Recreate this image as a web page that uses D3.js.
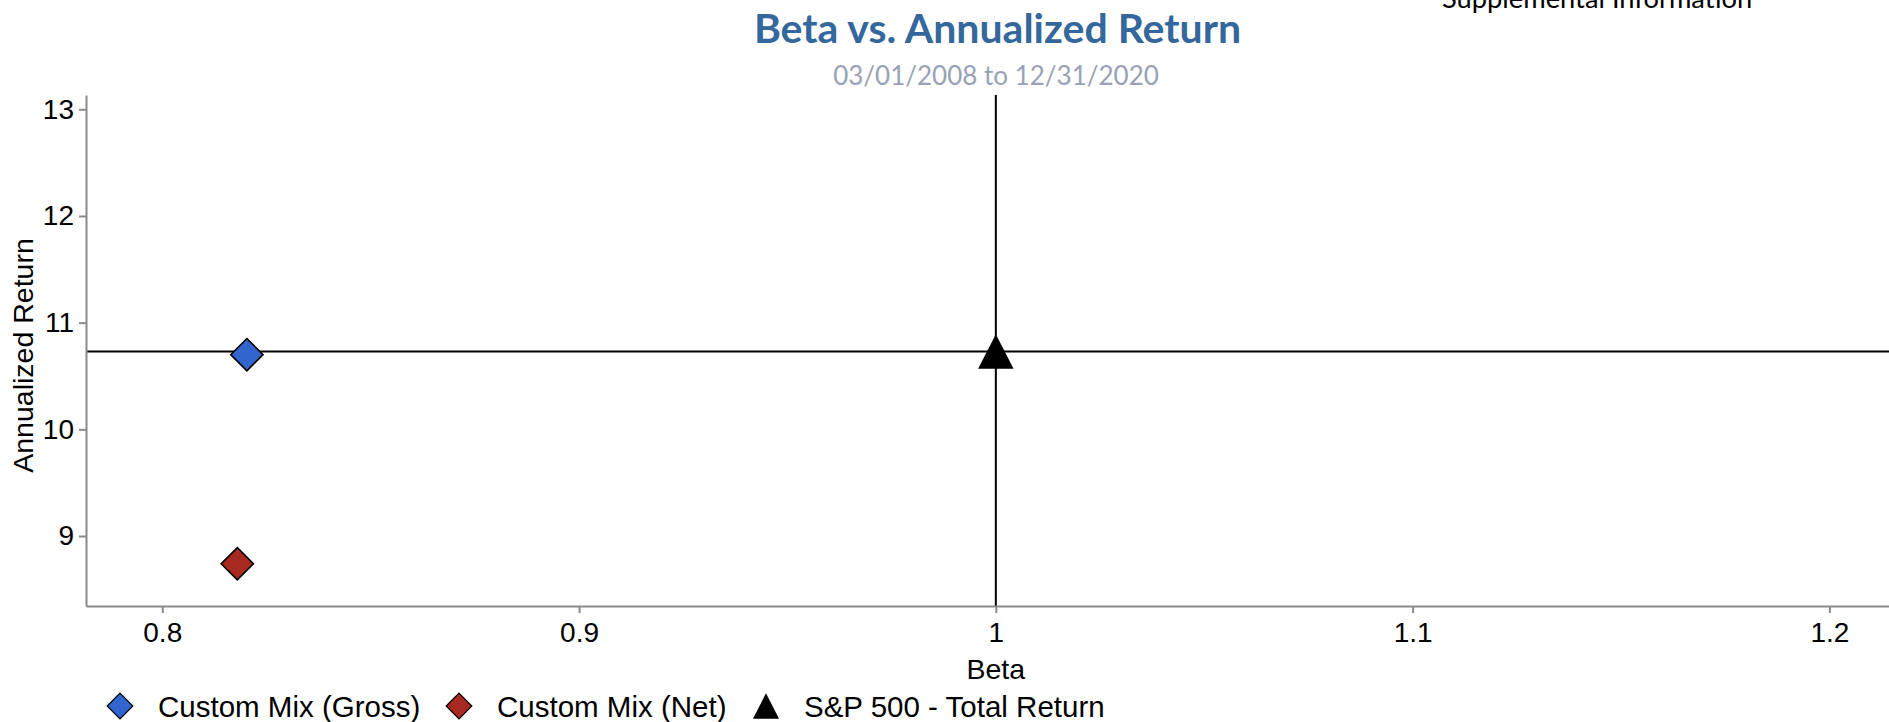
<!DOCTYPE html>
<html>
<head>
<meta charset="utf-8">
<script src="https://cdn.jsdelivr.net/npm/d3@7"></script>
<style>
  html, body { margin: 0; padding: 0; background: #fff; }
  svg { display: block; }
</style>
</head>
<body>
<svg id="chart" width="1889" height="722"></svg>
<script>
// ---- data ----
const categories = ["Custom Mix (Gross)", "Custom Mix (Net)", "S&P 500 - Total Return"];
const betaValues = [0.8203, 0.818, 1.0];
const returnValues = [10.70, 8.74, 10.73];
const benchmarkBeta = 1.0;
const benchmarkReturn = 10.73;
const xTickValues = [0.8, 0.9, 1.0, 1.1, 1.2];
const xTickLabels = ["0.8", "0.9", "1", "1.1", "1.2"];
const yTickValues = [9, 10, 11, 12, 13];
const yTickLabels = ["9", "10", "11", "12", "13"];
const xDomain = [0.7817, 1.2179];
const yDomain = [8.344, 13.134];
const titleText = "Beta vs. Annualized Return";
const subtitleText = "03/01/2008 to 12/31/2020";
const cornerText = "Supplemental Information";
const xTitle = "Beta";
const yTitle = "Annualized Return";

// ---- styles ----
const colors = ["#3366cc", "#a8291f", "#000000"];
const shapes = ["diamond", "diamond", "triangle"];
const FONT = "'Liberation Sans', Arial, sans-serif";
const TFONT = "Lato, 'Open Sans', sans-serif";

const svg = d3.select("#chart");
const plot = { left: 86, right: 1904, top: 95, bottom: 606 };

const x = d3.scaleLinear().domain(xDomain).range([plot.left, plot.right]);
const y = d3.scaleLinear().domain(yDomain).range([plot.bottom, plot.top]);

// custom symbol types
const squareDiamond = {
  draw(ctx, size) {
    const r = Math.sqrt(size / 2);
    ctx.moveTo(0, -r); ctx.lineTo(r, 0); ctx.lineTo(0, r); ctx.lineTo(-r, 0); ctx.closePath();
  }
};
const tallTriangle = {
  draw(ctx, size) {
    const h = Math.sqrt(size * 2 * 0.97);
    const w = h / 0.97;
    ctx.moveTo(0, -h / 2); ctx.lineTo(w / 2, h / 2); ctx.lineTo(-w / 2, h / 2); ctx.closePath();
  }
};
function symType(s) { return s === "diamond" ? squareDiamond : tallTriangle; }

// titles
svg.append("text").attr("x", 997.5).attr("y", 43).attr("text-anchor", "middle")
  .attr("font-family", TFONT).attr("font-weight", 700).attr("font-size", 41)
  .attr("fill", "#34679c").text(titleText);
svg.append("text").attr("x", 996).attr("y", 85).attr("text-anchor", "middle")
  .attr("font-family", TFONT).attr("font-size", 26)
  .attr("fill", "#98a2b6").text(subtitleText);
svg.append("text").attr("x", 1442).attr("y", 8).attr("text-anchor", "start")
  .attr("font-family", TFONT).attr("font-size", 27.3)
  .attr("fill", "#000").text(cornerText);

// reference lines
svg.append("line")
  .attr("x1", x(benchmarkBeta)).attr("x2", x(benchmarkBeta))
  .attr("y1", y(yDomain[1])).attr("y2", y(yDomain[0]))
  .attr("stroke", "#000").attr("stroke-width", 2);
svg.append("line")
  .attr("x1", x(xDomain[0])).attr("x2", x(xDomain[1]))
  .attr("y1", y(benchmarkReturn)).attr("y2", y(benchmarkReturn))
  .attr("stroke", "#000").attr("stroke-width", 2);

// axes
const xAxis = d3.axisBottom(x).tickValues(xTickValues)
  .tickFormat((d, i) => xTickLabels[i]).tickSize(7).tickSizeOuter(0).tickPadding(9);
const yAxis = d3.axisLeft(y).tickValues(yTickValues)
  .tickFormat((d, i) => yTickLabels[i]).tickSize(7).tickSizeOuter(0).tickPadding(5);

const gx = svg.append("g").attr("transform", `translate(0,${plot.bottom})`).call(xAxis);
const gy = svg.append("g").attr("transform", `translate(${plot.left},0)`).call(yAxis);
[gx, gy].forEach(g => {
  g.select(".domain").attr("stroke", "#8a8a8a").attr("stroke-width", 2);
  g.selectAll(".tick line").attr("stroke", "#8a8a8a").attr("stroke-width", 2);
  g.selectAll(".tick text").attr("fill", "#000").attr("font-family", FONT).attr("font-size", 28);
});

// axis titles
svg.append("text").attr("x", x(1.0)).attr("y", 679).attr("text-anchor", "middle")
  .attr("font-family", FONT).attr("font-size", 28.5).attr("fill", "#000").text(xTitle);
svg.append("text").attr("transform", `translate(33,${(plot.top + plot.bottom) / 2 + 5}) rotate(-90)`)
  .attr("text-anchor", "middle").attr("font-family", FONT).attr("font-size", 28.5)
  .attr("fill", "#000").text(yTitle);

// points
const pts = categories.map((c, i) => ({ c, b: betaValues[i], r: returnValues[i], i }));
svg.append("g").selectAll("path").data(pts).join("path")
  .attr("transform", d => `translate(${x(d.b)},${y(d.r)})`)
  .attr("d", d => d3.symbol().type(symType(shapes[d.i])).size(shapes[d.i] === "diamond" ? 520 : 610)())
  .attr("fill", d => colors[d.i])
  .attr("stroke", "#000").attr("stroke-width", d => shapes[d.i] === "diamond" ? 1.6 : 0);

// legend
const legendSymX = [120, 459, 766];
const legendY = 706;
const lg = svg.append("g").selectAll("g").data(pts).join("g")
  .attr("transform", d => `translate(${legendSymX[d.i]},${legendY})`);
lg.append("path")
  .attr("d", d => d3.symbol().type(symType(shapes[d.i])).size(330)())
  .attr("fill", d => colors[d.i])
  .attr("stroke", "#000").attr("stroke-width", d => shapes[d.i] === "diamond" ? 1.2 : 0);
lg.append("text").attr("x", 38).attr("y", 10.7)
  .attr("font-family", FONT).attr("font-size", 29.5).attr("fill", "#000")
  .text(d => d.c);
</script>
</body>
</html>
